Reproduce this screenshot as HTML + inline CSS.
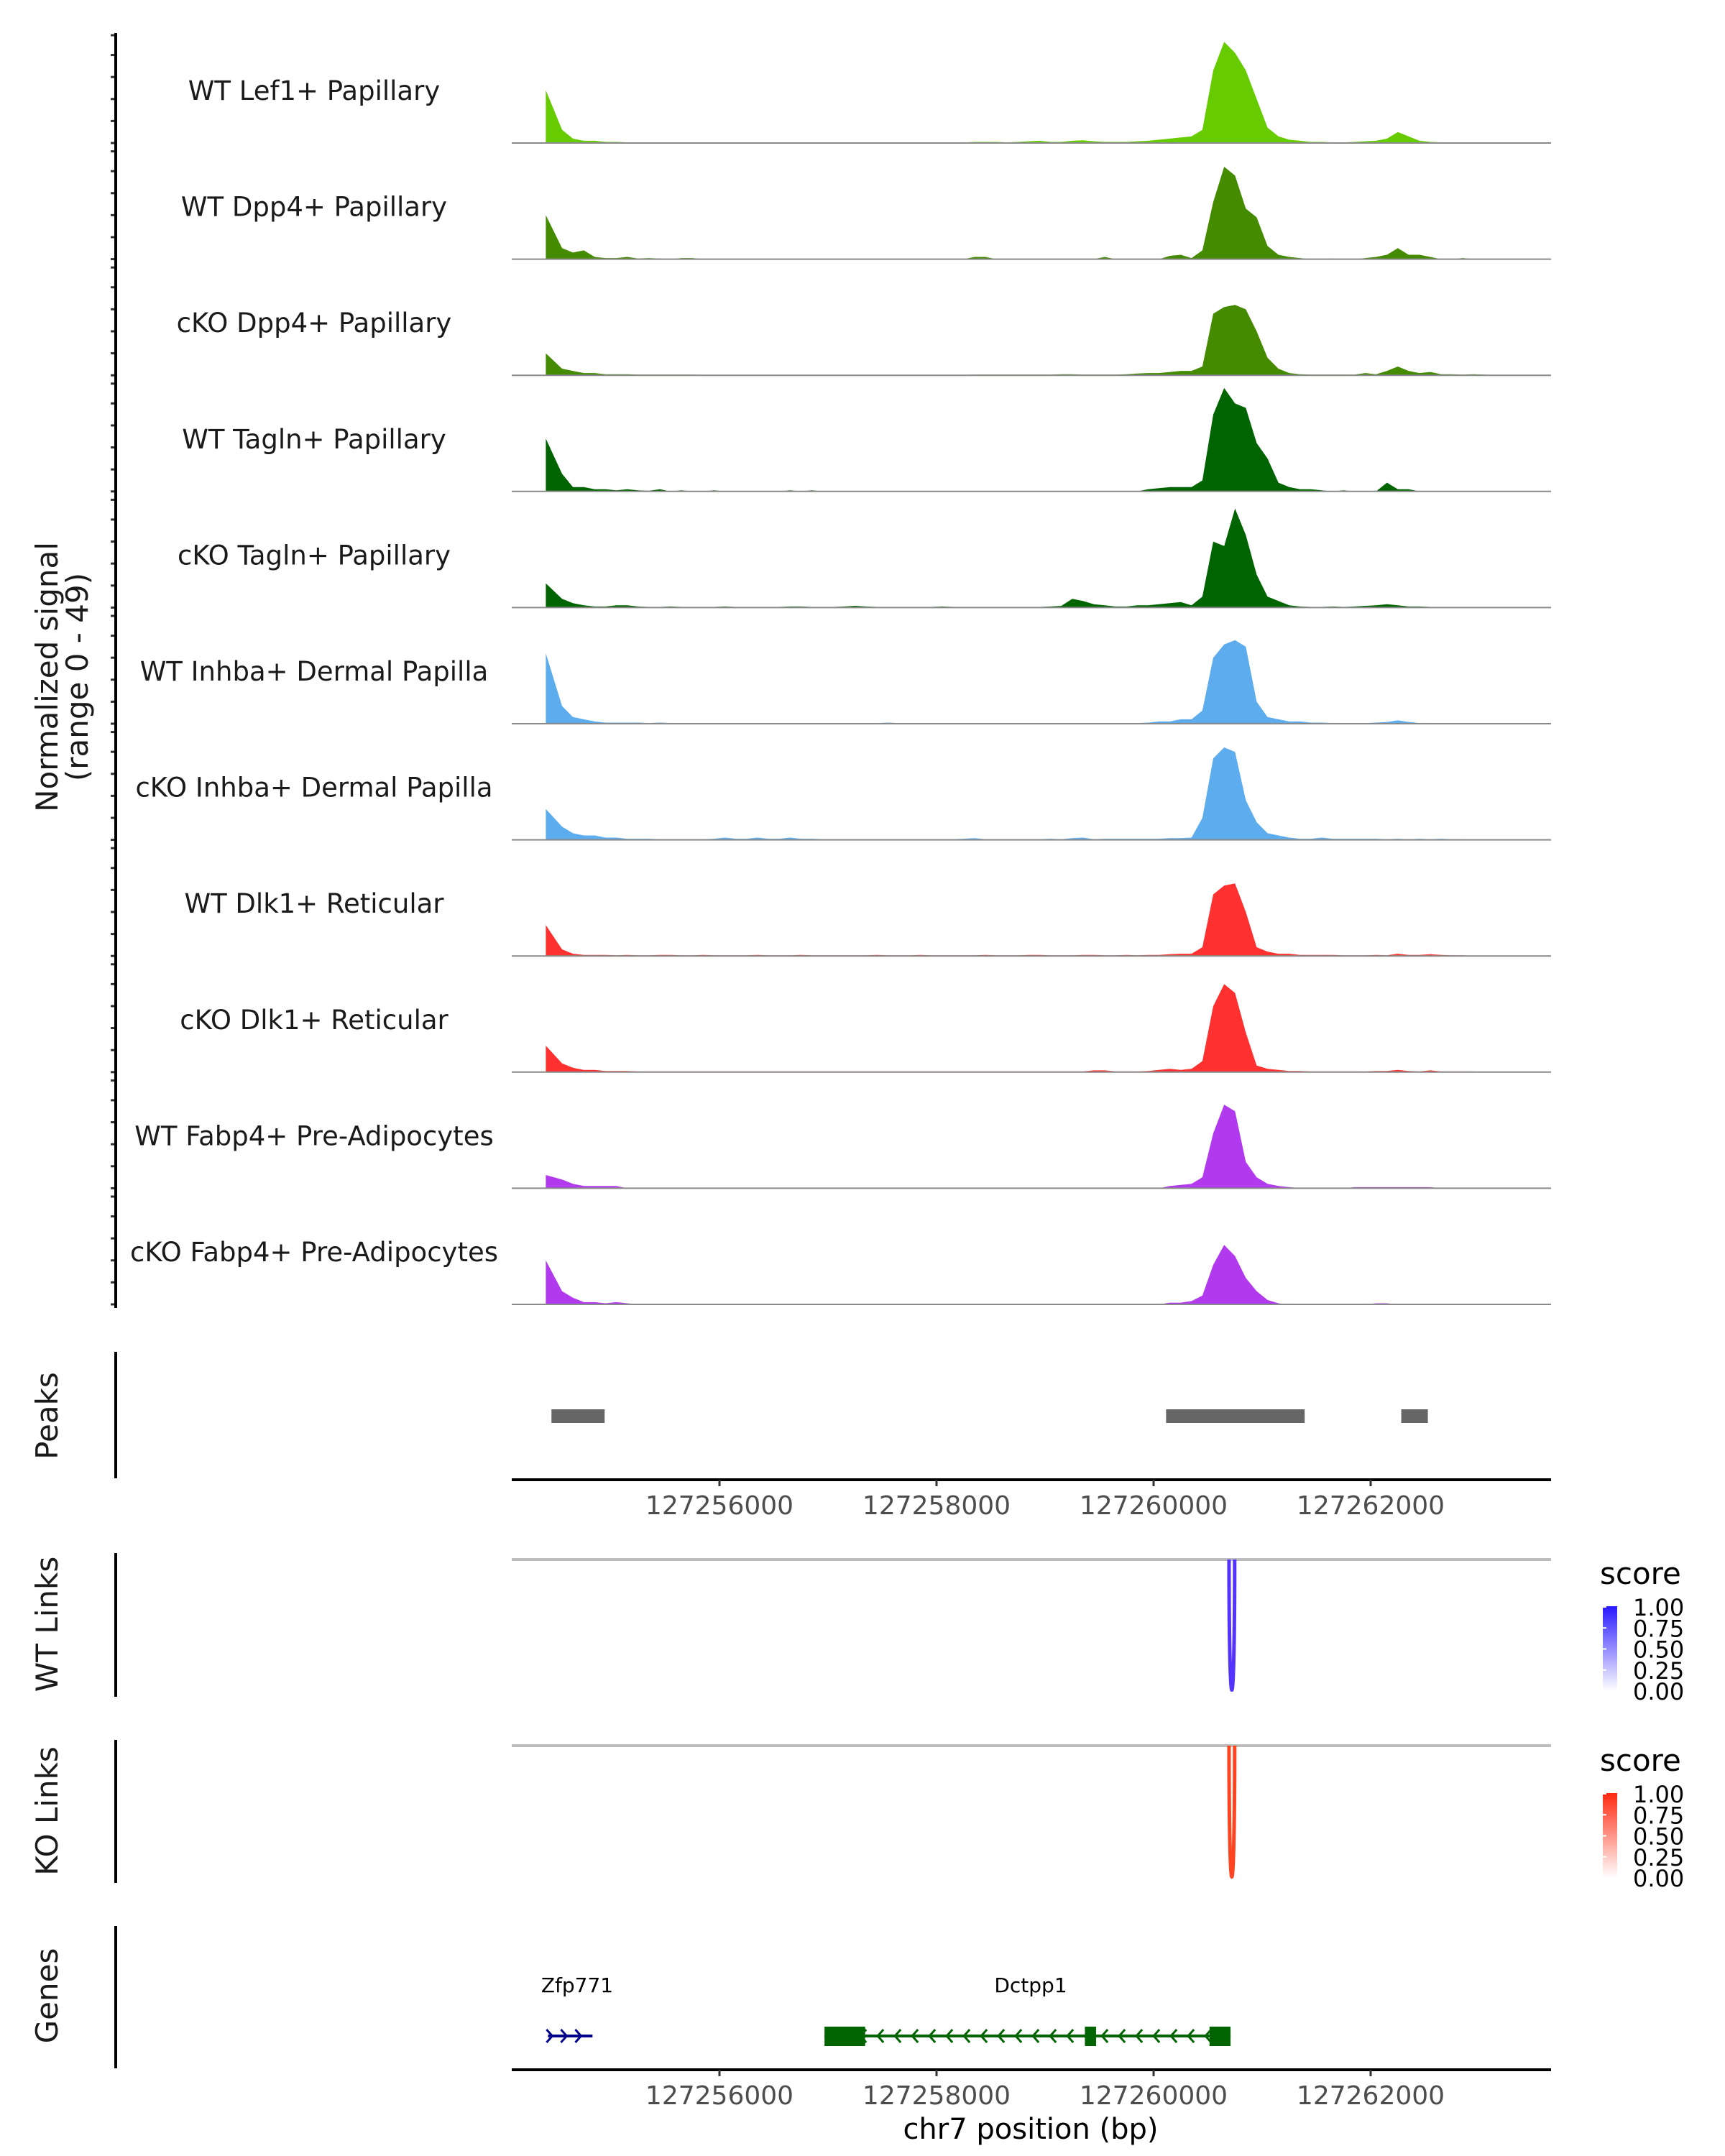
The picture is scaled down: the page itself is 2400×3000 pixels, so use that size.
<!DOCTYPE html>
<html><head><meta charset="utf-8"><style>
html,body{margin:0;padding:0;background:#fff;}
svg{display:block;font-family:"DejaVu Sans","Liberation Sans",sans-serif;}
</style></head><body>
<svg id="chart" width="2400" height="3000" viewBox="0 0 2400 3000" xmlns="http://www.w3.org/2000/svg">
<defs>
<linearGradient id="gblue" x1="0" y1="1" x2="0" y2="0"><stop offset="0" stop-color="#ffffff"/><stop offset="1" stop-color="#2a1aff"/></linearGradient>
<linearGradient id="gred" x1="0" y1="1" x2="0" y2="0"><stop offset="0" stop-color="#ffffff"/><stop offset="1" stop-color="#ff2a10"/></linearGradient>
</defs>
<g id="tracks"></g>
<g id="static">
<text transform="translate(80,942) rotate(-90)" text-anchor="middle" font-size="42" fill="#1a1a1a">Normalized signal</text>
<text transform="translate(122,942) rotate(-90)" text-anchor="middle" font-size="42" fill="#1a1a1a">(range 0 - 49)</text>
<line x1="161" y1="46" x2="161" y2="1820" stroke="#000" stroke-width="4"/>
<text transform="translate(80,1970) rotate(-90)" text-anchor="middle" font-size="42" fill="#1a1a1a">Peaks</text>
<line x1="161" y1="1881" x2="161" y2="2057" stroke="#000" stroke-width="4"/>
<text transform="translate(80,2260) rotate(-90)" text-anchor="middle" font-size="42" fill="#1a1a1a">WT Links</text>
<line x1="161" y1="2161" x2="161" y2="2361" stroke="#000" stroke-width="4"/>
<text transform="translate(80,2520) rotate(-90)" text-anchor="middle" font-size="42" fill="#1a1a1a">KO Links</text>
<line x1="161" y1="2421" x2="161" y2="2620" stroke="#000" stroke-width="4"/>
<text transform="translate(80,2777) rotate(-90)" text-anchor="middle" font-size="42" fill="#1a1a1a">Genes</text>
<line x1="161" y1="2680" x2="161" y2="2878" stroke="#000" stroke-width="4"/>
<text x="1434" y="2976" text-anchor="middle" font-size="40" fill="#000">chr7 position (bp)</text>
<text x="2226" y="2204" font-size="42" fill="#000">score</text>
<rect x="2230" y="2235" width="20" height="118" fill="url(#gblue)"/>
<text x="2226" y="2464" font-size="42" fill="#000">score</text>
<rect x="2230" y="2495" width="20" height="118" fill="url(#gred)"/>
</g>
</svg>
<script>
const NS="http://www.w3.org/2000/svg";
// ---- data ----
const trackNames=["WT Lef1+ Papillary","WT Dpp4+ Papillary","cKO Dpp4+ Papillary","WT Tagln+ Papillary","cKO Tagln+ Papillary","WT Inhba+ Dermal Papilla","cKO Inhba+ Dermal Papilla","WT Dlk1+ Reticular","cKO Dlk1+ Reticular","WT Fabp4+ Pre-Adipocytes","cKO Fabp4+ Pre-Adipocytes"];
const trackColors=["#66cc00","#458b00","#458b00","#006400","#006400","#5cacee","#5cacee","#ff3030","#ff3030","#b23aee","#b23aee"];
const binStart=127254400;
const binSize=100;
const sLef1WT=[24,6,2,1,1,0.5,0.5,0.3,0.3,0.3, 0.3,0.3,0.2,0.2,0.2,0.2,0.2,0.2,0.2,0.2, 0.2,0.2,0.2,0.2,0.2,0.2,0.2,0.2,0.2,0.2, 0.2,0.2,0.2,0.2,0.2,0.2,0.2,0.2,0.2,0.5, 0.5,0.5,0.3,0.5,0.8,1,0.5,0.5,1,1.2, 0.8,0.5,0.5,0.5,0.8,1,1.5,2,2.5,3, 6,33,46,41,33,20,7,3,1.5,1, 0.5,0.5,0.3,0.3,0.5,0.8,1,2,5,3, 1,0.5,0.3,0.3,0.2,0,0,0];
const sDpp4WT=[20,5,3,4,1,0.5,0.5,1,0.3,0.5, 0.3,0,0.5,0.5,0,0,0,0,0,0, 0,0,0,0,0,0,0,0,0,0, 0,0,0,0,0,0,0,0,0,1, 1,0,0,0,0,0,0,0,0,0, 0,1,0,0,0,0,0,1.5,2,0.5, 4,26,42,38,23,19,6,2,1,0.5, 0,0,0.3,0,0,0.5,1,2,5,2, 2,1,0,0,0.5,0,0,0];
const sDpp4KO=[10,3,2,1,1,0.5,0.5,0.5,0.3,0.3, 0.3,0.3,0.3,0.3,0.2,0.2,0.2,0.2,0.2,0.2, 0.2,0.2,0.2,0.2,0.2,0.2,0.2,0.2,0.2,0.2, 0.2,0.2,0.2,0.2,0.2,0.2,0.2,0.2,0.2,0.3, 0.3,0.3,0.3,0.3,0.3,0.3,0.3,0.5,0.5,0.3, 0.3,0.3,0.3,0.5,0.8,1,1,1.5,2,2, 4,28,31,32,30,20,8,3,1,0.5, 0.3,0.3,0.3,0.3,0.3,1,0.5,2,4,2, 1,1.5,0.5,0.5,0.3,0.5,0.3,0];
const sTaglnWT=[24,8,2,2,1,1,0.5,1,0.5,0.3, 1,0,0.5,0,0,0.5,0,0,0,0, 0,0,0.5,0,0.5,0,0,0,0,0, 0,0,0,0,0,0,0,0,0,0, 0,0,0,0,0,0,0,0,0,0, 0,0,0,0,0,1,1.5,2,2,2, 5,35,47,40,38,22,15,4,2,1, 1,0.5,0,0.5,0,0,0,4,1,1, 0,0,0,0,0,0,0,0];
const sTaglnKO=[11,4,2,1,0.5,0.5,1,1,0.5,0.3, 0.3,0.5,0.3,0.3,0.3,0.3,0.5,0.3,0.3,0.3, 0.3,0.3,0.5,0.5,0.3,0.3,0.3,0.5,0.8,0.5, 0.3,0.3,0.3,0.3,0.3,0.3,0.5,0.3,0.3,0.3, 0.3,0.3,0.3,0.3,0.3,0.3,0.5,0.8,4,3, 1.5,1,0.5,0.5,1,1,1.5,2,2.5,1, 5,30,28,45,33,15,5,3,1,0.5, 0.3,0.3,0.5,0.3,0.5,0.8,1,1.5,1,0.5, 0.5,0.3,0.3,0.3,0.3,0.3,0.3,0];
const sInhbaWT=[32,8,3,2,1,0.5,0.5,0.5,0.5,0.3, 0.5,0.3,0.3,0.3,0.3,0.3,0.3,0.3,0.3,0.3, 0.3,0.3,0.3,0.3,0.3,0.3,0.3,0.3,0.3,0.3, 0.3,0.5,0.3,0.3,0.3,0.3,0.3,0.3,0.3,0.3, 0.3,0.3,0.3,0.3,0.3,0.3,0.3,0.3,0.3,0.3, 0.3,0.3,0.3,0.3,0.3,0.5,1,1,2,2, 6,30,36,38,35,10,3,2,1,1, 0.5,0.5,0.3,0.3,0.3,0.3,0.5,0.8,1.5,0.8, 0.3,0.3,0.3,0.3,0.3,0.3,0.3,0];
const sInhbaKO=[14,6,3,2,2,1,1,0.5,0.5,0.5, 0.3,0.3,0.3,0.3,0.3,0.5,1,0.5,0.5,1, 0.5,0.5,1,0.5,0.5,0.3,0.3,0.3,0.3,0.3, 0.3,0.3,0.3,0.3,0.3,0.3,0.3,0.3,0.5,0.8, 0.3,0.3,0.3,0.3,0.3,0.3,0.5,0.3,0.8,1, 0.3,0.5,0.5,0.5,0.5,0.5,0.5,0.8,0.8,1, 10,37,42,40,18,8,3,2,1,0.5, 0.5,1,0.5,0.5,0.5,0.5,0.5,0.3,0.5,0.3, 0.5,0.3,0.5,0.3,0.3,0,0,0];
const sDlk1WT=[14,3,1,0.5,0.5,0.5,0.3,0.5,0.3,0.3, 0.5,0.5,0.3,0.3,0.5,0.3,0.3,0.3,0.3,0.5, 0.3,0.3,0.3,0.5,0.3,0.3,0.3,0.3,0.3,0.3, 0.5,0.3,0.3,0.3,0.5,0.3,0.3,0.3,0.3,0.3, 0.5,0.3,0.3,0.3,0.5,0.5,0.3,0.3,0.3,0.5, 0.5,0.3,0.3,0.5,0.3,0.5,0.5,0.8,1,1, 4,28,32,33,20,4,2,1,1,0.5, 0.5,0.5,0.5,0.3,0.3,0.3,0.5,0.3,1,0.5, 0.5,0.8,0.5,0.3,0.3,0,0,0];
const sDlk1KO=[12,4,2,1,1,0.5,0.5,0.5,0.3,0.3, 0.3,0.3,0.3,0.3,0.3,0.3,0.3,0.3,0.3,0.3, 0.3,0.3,0.3,0.3,0.3,0.3,0.3,0.3,0.3,0.3, 0.3,0.3,0.3,0.3,0.3,0.3,0.3,0.3,0.3,0.3, 0.3,0.3,0.3,0.3,0.3,0.3,0.3,0.3,0.3,0.3, 0.8,0.8,0.3,0.3,0.3,0.5,1,1.5,1,1.5, 5,30,40,36,18,3,1.5,1,0.5,0.5, 0.3,0.3,0.3,0.3,0.3,0.3,0.5,0.5,1,0.5, 0.3,0.8,0.3,0.3,0.3,0.3,0,0];
const sFabp4WT=[6,4,2,1,1,1,1,0,0,0, 0,0,0,0,0,0,0,0,0,0, 0,0,0,0,0,0,0,0,0,0, 0,0,0,0,0,0,0,0,0,0, 0,0,0,0,0,0,0,0,0,0, 0,0,0,0,0,0,0,1,1.5,2, 5,25,38,35,12,5,2,1,0.5,0, 0,0,0,0,0.5,0.5,0.5,0.5,0.5,0.5, 0.5,0.5,0,0,0,0,0,0];
const sFabp4KO=[20,6,3,1,1,0.5,1,0.5,0,0, 0,0,0,0,0,0,0,0,0,0, 0,0,0,0,0,0,0,0,0,0, 0,0,0,0,0,0,0,0,0,0, 0,0,0,0,0,0,0,0,0,0, 0,0,0,0,0,0,0,0.8,0.8,1.5, 4,18,27,22,12,6,2,0.5,0,0, 0,0,0,0,0,0,0.5,0.5,0,0, 0,0,0,0,0,0,0,0];
const seriesList=[sLef1WT,sDpp4WT,sDpp4KO,sTaglnWT,sTaglnKO,sInhbaWT,sInhbaKO,sDlk1WT,sDlk1KO,sFabp4WT,sFabp4KO];
const yMax=49;
const peakStarts=[127254452,127260115,127262282];
const peakEnds=[127254942,127261392,127262527];
const linkStartsWT=[127260695];
const linkEndsWT=[127260747];
const linkScoresWT=[0.8];
const linkStartsKO=[127260695];
const linkEndsKO=[127260747];
const linkScoresKO=[0.75];
const xTicks=[127256000,127258000,127260000,127262000];
const legendTicks=[1.00,0.75,0.50,0.25,0.00];
const geneNames=["Zfp771","Dctpp1"];
const geneStarts=[127254420,127256968];
const geneEnds=[127254830,127260709];
const geneStrands=["+","-"];
const exonStarts=[127256968,127259367,127260515];
const exonEnds=[127257342,127259470,127260709];

// ---- scales ----
const X0=712,X1=2158;
function xs(pos){return 1001+(pos-127256000)*0.151;}
const firstBase=199, trackStep=161.6, trackH=150;
function ys(base,v){return base - v/yMax*trackH;}

const svg=document.getElementById('chart');
const tg=document.getElementById('tracks');
function mk(tag,attrs,parent){const e=document.createElementNS(NS,tag);for(const k in attrs)e.setAttribute(k,attrs[k]);(parent||svg).appendChild(e);return e;}

seriesList.forEach((vals,t)=>{
  const base=firstBase+t*trackStep;
  const g=mk('g',{},tg);
  
  
  for(let v=0;v<=40;v+=10){
    const tk=mk('line',{x1:154,x2:161,y1:ys(base,v),y2:ys(base,v),stroke:'#333','stroke-width':3},g);
    
    
  }
  const tk2=mk('line',{x1:154,x2:161,y1:ys(base,yMax),y2:ys(base,yMax),stroke:'#333','stroke-width':3},g);
  
  
  let d='M'+xs(binStart).toFixed(1)+','+base;
  vals.forEach((v,i)=>{const x=xs(binStart+binSize*i+ (i===0?0:binSize/2));d+=' L'+x.toFixed(1)+','+ys(base,v).toFixed(1);});
  d+=' L'+xs(binStart+binSize*vals.length).toFixed(1)+','+base+' Z';
  const area=mk('path',{d:d,fill:trackColors[t]},g);
  
  
  const bl=mk('line',{x1:X0,x2:X1,y1:base,y2:base,stroke:'#8a8a8a','stroke-width':2},g);
  
  
  const lab=mk('text',{x:437,y:base-60,'text-anchor':'middle','font-size':37,fill:'#1a1a1a'},g);
  lab.textContent=trackNames[t];
  
  
});

peakStarts.forEach((s,i)=>{
  const r=mk('rect',{x:xs(s),y:1961,width:xs(peakEnds[i])-xs(s),height:19,fill:'#666666'});
  
  
});
function axis(y){
  const l=mk('line',{x1:X0,x2:X1,y1:y,y2:y,stroke:'#000','stroke-width':4});
  
  
  xTicks.forEach(p=>{
    const t=mk('line',{x1:xs(p),x2:xs(p),y1:y,y2:y+9,stroke:'#333','stroke-width':3});
    
    
    const tx=mk('text',{x:xs(p),y:y+48,'text-anchor':'middle','font-size':36,fill:'#4d4d4d'});
    tx.textContent=p;
    
    
  });
}
axis(2059);
axis(2880);

function links(starts,ends,scores,top,depth,color){
  const gl=mk('line',{x1:X0,x2:X1,y1:top,y2:top,stroke:'#bdbdbd','stroke-width':4});
  
  
  starts.forEach((s,i)=>{
    const a=xs(s),b=xs(ends[i]);
    const p=mk('path',{d:`M${a},${top} C${a},${top+depth*1.33} ${b},${top+depth*1.33} ${b},${top}`,fill:'none',stroke:color,'stroke-width':5});
    
    
  });
}
links(linkStartsWT,linkEndsWT,linkScoresWT,2170,182,'#5533ff');
links(linkStartsKO,linkEndsKO,linkScoresKO,2429,183,'#ff4422');
function legend(top){
  legendTicks.forEach((v,i)=>{
    const y=top+ (1-v)*117;
    const t=mk('text',{x:2272,y:y+12,'font-size':32,fill:'#000'});
    t.textContent=v.toFixed(2);
    
    
    const tk=mk('line',{x1:2230,x2:2235,y1:y,y2:y,stroke:'#fff','stroke-width':2});
    
    
  });
}
legend(2236);
legend(2496);

const gy=2833;
geneNames.forEach((n,i)=>{
  const color=geneStrands[i]==='+'?'#00008b':'#006400';
  const a=xs(geneStarts[i]),b=xs(geneEnds[i]);
  const l=mk('line',{x1:a,x2:b,y1:gy,y2:gy,stroke:color,'stroke-width':4});
  
  
  const step=geneStrands[i]==='+'?20:24;
  for(let x=a+4;x<=b-4;x+=step){
    const dir=geneStrands[i]==='+'?1:-1;
    const c=mk('path',{d:`M${x-6*dir},${gy-9} L${x+2*dir},${gy} L${x-6*dir},${gy+9}`,fill:'none',stroke:color,'stroke-width':3});
    
    
  }
  const tx=mk('text',{x:i===0?803:1434,y:2772,'text-anchor':'middle','font-size':28,fill:'#000'});
  tx.textContent=n;
  
  
});
exonStarts.forEach((s,i)=>{
  const r=mk('rect',{x:xs(s),y:gy-13,width:xs(exonEnds[i])-xs(s),height:27,fill:'#006400'});
  
  
});
</script>
</body></html>
